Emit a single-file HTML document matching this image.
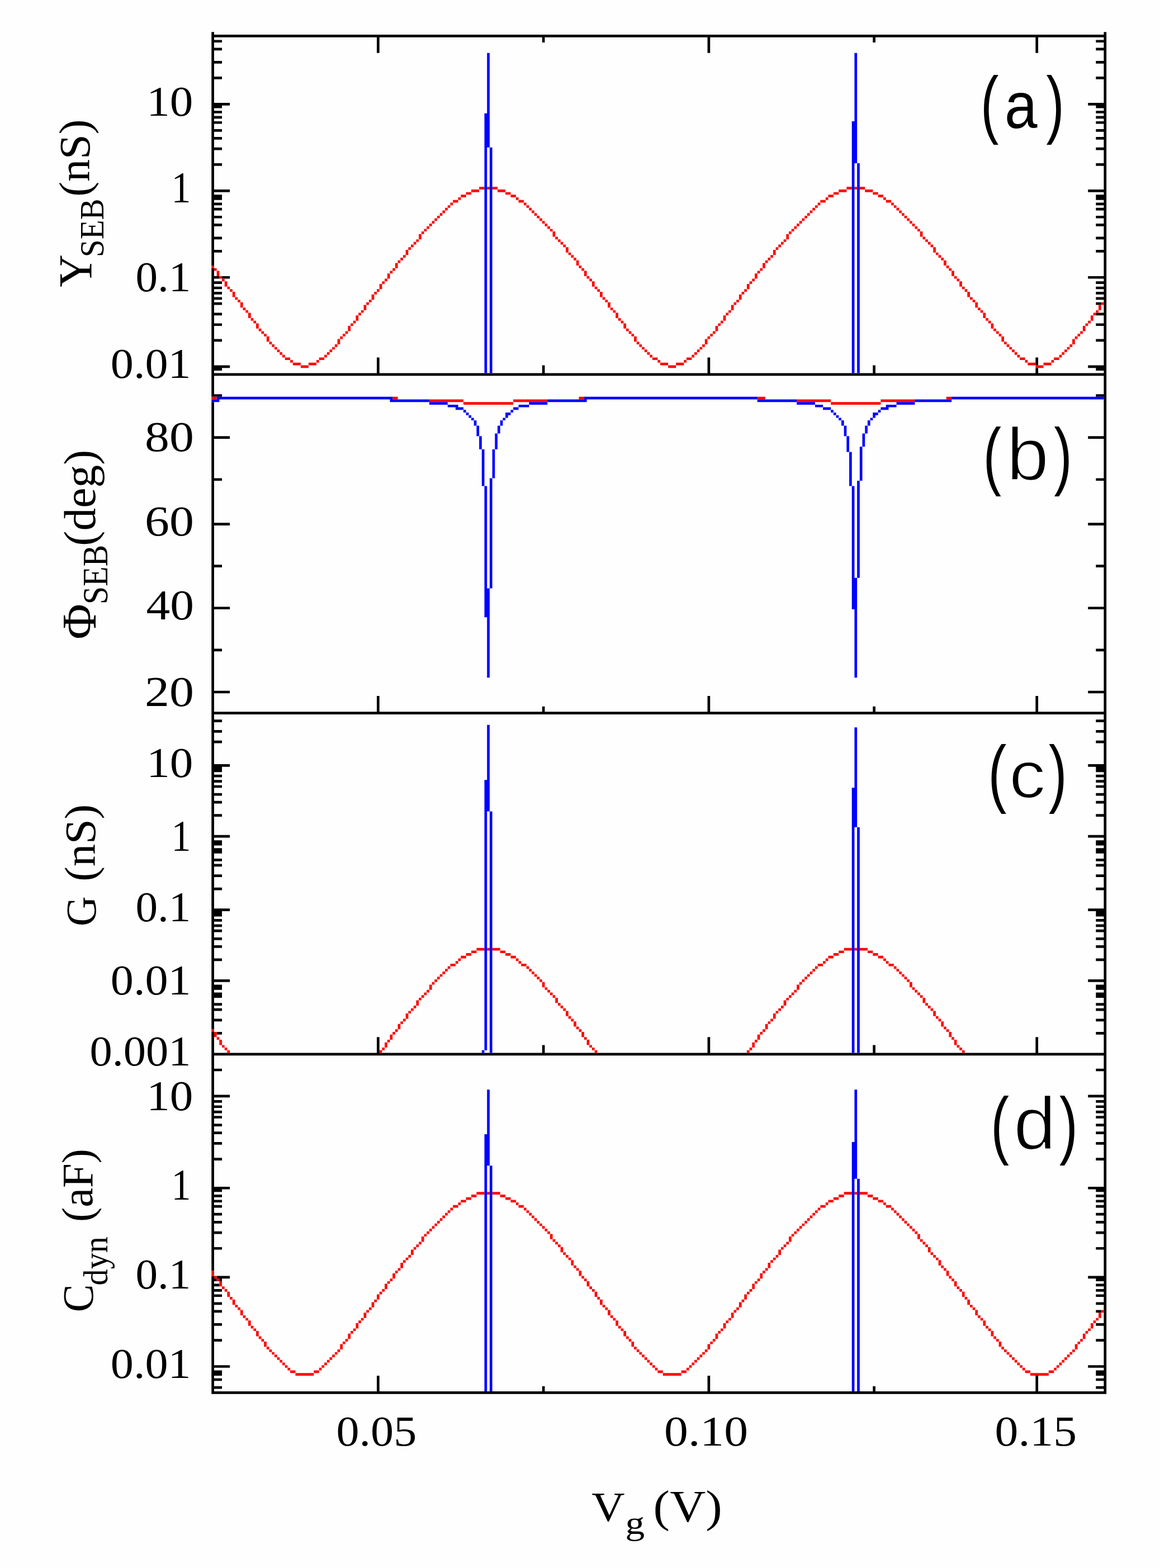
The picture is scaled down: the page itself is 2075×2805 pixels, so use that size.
<!DOCTYPE html>
<html lang="en"><head><meta charset="utf-8"><title>Figure</title>
<style>html,body{margin:0;padding:0;width:2075px;height:2805px;overflow:hidden;background:#fefefe}svg{display:block}text{white-space:pre}</style></head>
<body>
<svg width="2075" height="2805" viewBox="0 0 2075 2805">
<rect width="2075" height="2805" fill="#fefefe"/>
<g>
<path fill="#000" d="M378.28 57.3H382.97V61.99H378.28zM1974.44 57.3H1979.14V61.99H1974.44zM378.28 61.99H1979.14V66.68H378.28zM378.28 66.68H382.97V71.38H378.28zM1974.44 66.68H1979.14V71.38H1974.44zM378.28 71.38H397.06V76.07H378.28zM969.8 66.68H974.49V76.07H969.8zM1561.32 66.68H1566.01V76.07H1561.32zM1960.36 71.38H1979.14V76.07H1960.36zM378.28 76.07H382.97V85.46H378.28zM1974.44 76.07H1979.14V85.46H1974.44zM378.28 85.46H397.06V90.16H378.28zM1960.36 85.46H1979.14V90.16H1960.36zM674.04 66.68H678.73V94.85H674.04zM1265.56 66.68H1270.25V94.85H1265.56zM1852.38 66.68H1857.08V94.85H1852.38zM378.28 90.16H382.97V108.94H378.28zM1974.44 90.16H1979.14V108.94H1974.44zM378.28 108.94H397.06V113.63H378.28zM1960.36 108.94H1979.14V113.63H1960.36zM378.28 113.63H382.97V137.1H378.28zM1974.44 113.63H1979.14V137.1H1974.44zM378.28 137.1H397.06V141.8H378.28zM1960.36 137.1H1979.14V141.8H1960.36zM378.28 141.8H382.97V184.05H378.28zM1974.44 141.8H1979.14V184.05H1974.44zM378.28 184.05H411.14V188.74H378.28zM1946.28 184.05H1979.14V188.74H1946.28zM378.28 188.74H397.06V193.44H378.28zM1960.36 188.74H1979.14V193.44H1960.36zM378.28 193.44H382.97V198.13H378.28zM1974.44 193.44H1979.14V198.13H1974.44zM378.28 198.13H397.06V202.83H378.28zM1960.36 198.13H1979.14V202.83H1960.36zM378.28 202.83H382.97V207.52H378.28zM1974.44 202.83H1979.14V207.52H1974.44zM378.28 207.52H397.06V212.22H378.28zM1960.36 207.52H1979.14V212.22H1960.36zM378.28 212.22H382.97V216.91H378.28zM1974.44 212.22H1979.14V216.91H1974.44zM378.28 216.91H397.06V221.61H378.28zM1960.36 216.91H1979.14V221.61H1960.36zM378.28 221.61H382.97V231H378.28zM1974.44 221.61H1979.14V231H1974.44zM378.28 231H397.06V235.69H378.28zM1960.36 231H1979.14V235.69H1960.36zM378.28 235.69H382.97V245.08H378.28zM1974.44 235.69H1979.14V245.08H1974.44zM378.28 245.08H397.06V249.77H378.28zM1960.36 245.08H1979.14V249.77H1960.36zM378.28 249.77H382.97V263.86H378.28zM1974.44 249.77H1979.14V263.86H1974.44zM378.28 263.86H397.06V268.55H378.28zM1960.36 263.86H1979.14V268.55H1960.36zM378.28 268.55H382.97V292.03H378.28zM1974.44 268.55H1979.14V292.03H1974.44zM378.28 292.03H397.06V296.72H378.28zM1960.36 292.03H1979.14V296.72H1960.36zM378.28 296.72H382.97V338.97H378.28zM1974.44 296.72H1979.14V338.97H1974.44zM378.28 338.97H411.14V343.67H378.28zM1946.28 338.97H1979.14V343.67H1946.28zM378.28 343.67H382.97V348.36H378.28zM1974.44 343.67H1979.14V348.36H1974.44zM378.28 348.36H397.06V357.75H378.28zM1960.36 348.36H1979.14V357.75H1960.36zM378.28 357.75H382.97V362.44H378.28zM1974.44 357.75H1979.14V362.44H1974.44zM378.28 362.44H397.06V367.14H378.28zM1960.36 362.44H1979.14V367.14H1960.36zM378.28 367.14H382.97V371.83H378.28zM1974.44 367.14H1979.14V371.83H1974.44zM378.28 371.83H397.06V376.53H378.28zM1960.36 371.83H1979.14V376.53H1960.36zM378.28 376.53H382.97V385.92H378.28zM1974.44 376.53H1979.14V385.92H1974.44zM378.28 385.92H397.06V390.61H378.28zM1960.36 385.92H1979.14V390.61H1960.36zM378.28 390.61H382.97V400H378.28zM1974.44 390.61H1979.14V400H1974.44zM378.28 400H397.06V404.7H378.28zM1960.36 400H1979.14V404.7H1960.36zM378.28 404.7H382.97V423.47H378.28zM1974.44 404.7H1979.14V423.47H1974.44zM378.28 423.47H397.06V428.17H378.28zM1960.36 423.47H1979.14V428.17H1960.36zM378.28 428.17H382.97V446.95H378.28zM1974.44 428.17H1979.14V446.95H1974.44zM378.28 446.95H397.06V451.64H378.28zM1960.36 446.95H1979.14V451.64H1960.36zM378.28 451.64H382.97V475.11H378.28zM378.28 479.81H382.97V493.89H378.28zM1974.44 451.64H1979.14V493.89H1974.44zM378.28 493.89H392.36V498.59H378.28zM397.06 493.89H411.14V498.59H397.06zM1946.28 493.89H1979.14V498.59H1946.28zM378.28 498.59H382.97V503.28H378.28zM1974.44 498.59H1979.14V503.28H1974.44zM378.28 503.28H397.06V507.98H378.28zM1960.36 503.28H1979.14V507.98H1960.36zM378.28 507.98H382.97V512.67H378.28zM1974.44 507.98H1979.14V512.67H1974.44zM378.28 512.67H397.06V517.37H378.28zM1960.36 512.67H1979.14V517.37H1960.36zM378.28 517.37H382.97V522.06H378.28zM1974.44 517.37H1979.14V522.06H1974.44zM378.28 522.06H397.06V526.76H378.28zM1960.36 522.06H1979.14V526.76H1960.36zM378.28 526.76H382.97V531.45H378.28zM1974.44 526.76H1979.14V531.45H1974.44zM378.28 531.45H397.06V536.14H378.28zM1960.36 531.45H1979.14V536.14H1960.36zM378.28 536.14H382.97V540.84H378.28zM378.28 540.84H397.06V545.53H378.28zM1960.36 540.84H1969.75V545.53H1960.36zM378.28 545.53H382.97V559.62H378.28zM1974.44 536.14H1979.14V559.62H1974.44zM378.28 559.62H397.06V564.31H378.28zM1960.36 559.62H1979.14V564.31H1960.36zM378.28 564.31H382.97V578.4H378.28zM1974.44 564.31H1979.14V578.4H1974.44zM378.28 578.4H397.06V583.09H378.28zM1960.36 578.4H1979.14V583.09H1960.36zM378.28 583.09H382.97V606.56H378.28zM1974.44 583.09H1979.14V606.56H1974.44zM378.28 606.56H397.06V611.26H378.28zM1960.36 606.56H1979.14V611.26H1960.36zM378.28 611.26H382.97V653.51H378.28zM1852.38 639.43H1857.08V653.51H1852.38zM1974.44 611.26H1979.14V653.51H1974.44zM378.28 653.51H411.14V658.2H378.28zM1946.28 653.51H1979.14V658.2H1946.28zM378.28 658.2H397.06V662.9H378.28zM1960.36 658.2H1979.14V662.9H1960.36zM378.28 662.9H382.97V667.59H378.28zM674.04 639.43H678.73V667.59H674.04zM969.8 653.51H974.49V667.59H969.8zM1265.56 639.43H1270.25V667.59H1265.56zM1561.32 653.51H1566.01V667.59H1561.32zM1852.38 658.2H1857.08V667.59H1852.38zM1974.44 662.9H1979.14V667.59H1974.44zM378.28 667.59H1979.14V672.29H378.28zM378.28 672.29H382.97V705.15H378.28zM1974.44 672.29H1979.14V705.15H1974.44zM378.28 705.15H397.06V709.84H378.28zM1960.36 705.15H1979.14V709.84H1960.36zM378.28 719.23H382.97V780.26H378.28zM1974.44 709.84H1979.14V780.26H1974.44zM378.28 780.26H411.14V784.96H378.28zM1946.28 780.26H1979.14V784.96H1946.28zM378.28 784.96H382.97V855.38H378.28zM1974.44 784.96H1979.14V855.38H1974.44zM378.28 855.38H397.06V860.07H378.28zM1960.36 855.38H1979.14V860.07H1960.36zM378.28 860.07H382.97V935.19H378.28zM1974.44 860.07H1979.14V935.19H1974.44zM378.28 935.19H411.14V939.88H378.28zM1946.28 935.19H1979.14V939.88H1946.28zM378.28 939.88H382.97V1010.3H378.28zM1974.44 939.88H1979.14V1010.3H1974.44zM378.28 1010.3H397.06V1014.99H378.28zM1960.36 1010.3H1979.14V1014.99H1960.36zM378.28 1014.99H382.97V1085.41H378.28zM1974.44 1014.99H1979.14V1085.41H1974.44zM378.28 1085.41H411.14V1090.11H378.28zM1946.28 1085.41H1979.14V1090.11H1946.28zM378.28 1090.11H382.97V1160.53H378.28zM1974.44 1090.11H1979.14V1160.53H1974.44zM378.28 1160.53H397.06V1165.22H378.28zM1960.36 1160.53H1979.14V1165.22H1960.36zM378.28 1165.22H382.97V1235.64H378.28zM1974.44 1165.22H1979.14V1235.64H1974.44zM378.28 1235.64H411.14V1240.33H378.28zM1946.28 1235.64H1979.14V1240.33H1946.28zM378.28 1240.33H382.97V1273.2H378.28zM674.04 1245.03H678.73V1273.2H674.04zM969.8 1263.81H974.49V1273.2H969.8zM1265.56 1245.03H1270.25V1273.2H1265.56zM1561.32 1263.81H1566.01V1273.2H1561.32zM1852.38 1245.03H1857.08V1273.2H1852.38zM1974.44 1240.33H1979.14V1273.2H1974.44zM378.28 1273.2H1979.14V1277.89H378.28zM378.28 1277.89H382.97V1287.28H378.28zM1974.44 1277.89H1979.14V1287.28H1974.44zM378.28 1287.28H397.06V1291.98H378.28zM1960.36 1287.28H1979.14V1291.98H1960.36zM378.28 1291.98H382.97V1306.06H378.28zM1974.44 1291.98H1979.14V1306.06H1974.44zM378.28 1306.06H397.06V1310.75H378.28zM1960.36 1306.06H1979.14V1310.75H1960.36zM378.28 1310.75H382.97V1324.84H378.28zM1974.44 1310.75H1979.14V1324.84H1974.44zM378.28 1324.84H397.06V1329.53H378.28zM1960.36 1324.84H1979.14V1329.53H1960.36zM378.28 1329.53H382.97V1367.09H378.28zM1974.44 1329.53H1979.14V1367.09H1974.44zM378.28 1367.09H411.14V1371.78H378.28zM1946.28 1367.09H1979.14V1371.78H1946.28zM378.28 1371.78H397.06V1381.17H378.28zM1960.36 1371.78H1979.14V1381.17H1960.36zM378.28 1381.17H382.97V1385.87H378.28zM1974.44 1381.17H1979.14V1385.87H1974.44zM378.28 1385.87H397.06V1390.56H378.28zM1960.36 1385.87H1979.14V1390.56H1960.36zM378.28 1390.56H382.97V1395.26H378.28zM1974.44 1390.56H1979.14V1395.26H1974.44zM378.28 1395.26H397.06V1399.95H378.28zM1960.36 1395.26H1979.14V1399.95H1960.36zM378.28 1399.95H382.97V1404.65H378.28zM1974.44 1399.95H1979.14V1404.65H1974.44zM378.28 1404.65H397.06V1409.34H378.28zM1960.36 1404.65H1979.14V1409.34H1960.36zM378.28 1409.34H382.97V1418.73H378.28zM1974.44 1409.34H1979.14V1418.73H1974.44zM378.28 1418.73H397.06V1423.42H378.28zM1960.36 1418.73H1979.14V1423.42H1960.36zM378.28 1423.42H382.97V1432.81H378.28zM1974.44 1423.42H1979.14V1432.81H1974.44zM378.28 1432.81H397.06V1437.51H378.28zM1960.36 1432.81H1979.14V1437.51H1960.36zM378.28 1437.51H382.97V1456.29H378.28zM1974.44 1437.51H1979.14V1456.29H1974.44zM378.28 1456.29H397.06V1460.98H378.28zM1960.36 1456.29H1979.14V1460.98H1960.36zM378.28 1460.98H382.97V1493.84H378.28zM1974.44 1460.98H1979.14V1493.84H1974.44zM378.28 1493.84H411.14V1498.54H378.28zM1946.28 1493.84H1979.14V1498.54H1946.28zM378.28 1498.54H382.97V1503.23H378.28zM1974.44 1498.54H1979.14V1503.23H1974.44zM378.28 1503.23H397.06V1512.62H378.28zM1960.36 1503.23H1979.14V1512.62H1960.36zM378.28 1512.62H382.97V1517.32H378.28zM1974.44 1512.62H1979.14V1517.32H1974.44zM378.28 1517.32H397.06V1526.71H378.28zM1960.36 1517.32H1979.14V1526.71H1960.36zM378.28 1526.71H382.97V1536.09H378.28zM1974.44 1526.71H1979.14V1536.09H1974.44zM378.28 1536.09H397.06V1540.79H378.28zM1960.36 1536.09H1979.14V1540.79H1960.36zM378.28 1540.79H382.97V1545.48H378.28zM1974.44 1540.79H1979.14V1545.48H1974.44zM378.28 1545.48H397.06V1550.18H378.28zM1960.36 1545.48H1979.14V1550.18H1960.36zM378.28 1550.18H382.97V1564.26H378.28zM1974.44 1550.18H1979.14V1564.26H1974.44zM378.28 1564.26H397.06V1568.96H378.28zM1960.36 1564.26H1979.14V1568.96H1960.36zM378.28 1568.96H382.97V1587.74H378.28zM1974.44 1568.96H1979.14V1587.74H1974.44zM378.28 1587.74H397.06V1592.43H378.28zM1960.36 1587.74H1979.14V1592.43H1960.36zM378.28 1592.43H382.97V1625.29H378.28zM1974.44 1592.43H1979.14V1625.29H1974.44zM378.28 1625.29H411.14V1629.99H378.28zM1946.28 1625.29H1979.14V1629.99H1946.28zM378.28 1629.99H397.06V1639.38H378.28zM1960.36 1629.99H1979.14V1639.38H1960.36zM378.28 1639.38H382.97V1644.07H378.28zM1974.44 1639.38H1979.14V1644.07H1974.44zM378.28 1644.07H397.06V1648.76H378.28zM1960.36 1644.07H1979.14V1648.76H1960.36zM378.28 1648.76H382.97V1653.46H378.28zM1974.44 1648.76H1979.14V1653.46H1974.44zM378.28 1653.46H397.06V1658.15H378.28zM1960.36 1653.46H1979.14V1658.15H1960.36zM378.28 1658.15H382.97V1662.85H378.28zM1974.44 1658.15H1979.14V1662.85H1974.44zM378.28 1662.85H397.06V1667.54H378.28zM1960.36 1662.85H1979.14V1667.54H1960.36zM378.28 1667.54H382.97V1676.93H378.28zM1974.44 1667.54H1979.14V1676.93H1974.44zM378.28 1676.93H397.06V1681.63H378.28zM1960.36 1676.93H1979.14V1681.63H1960.36zM378.28 1681.63H382.97V1691.02H378.28zM1974.44 1681.63H1979.14V1691.02H1974.44zM378.28 1691.02H397.06V1695.71H378.28zM1960.36 1691.02H1979.14V1695.71H1960.36zM378.28 1695.71H382.97V1714.49H378.28zM1974.44 1695.71H1979.14V1714.49H1974.44zM378.28 1714.49H397.06V1719.18H378.28zM1960.36 1714.49H1979.14V1719.18H1960.36zM378.28 1719.18H382.97V1752.05H378.28zM1974.44 1719.18H1979.14V1752.05H1974.44zM378.28 1752.05H411.14V1756.74H378.28zM1946.28 1752.05H1979.14V1756.74H1946.28zM378.28 1756.74H382.97V1761.44H378.28zM1974.44 1756.74H1979.14V1761.44H1974.44zM378.28 1761.44H397.06V1770.82H378.28zM1960.36 1761.44H1979.14V1770.82H1960.36zM378.28 1770.82H382.97V1775.52H378.28zM1974.44 1770.82H1979.14V1775.52H1974.44zM378.28 1775.52H397.06V1784.91H378.28zM1960.36 1775.52H1979.14V1784.91H1960.36zM378.28 1784.91H382.97V1794.3H378.28zM1974.44 1784.91H1979.14V1794.3H1974.44zM378.28 1794.3H397.06V1798.99H378.28zM1960.36 1794.3H1979.14V1798.99H1960.36zM378.28 1798.99H382.97V1803.69H378.28zM1974.44 1798.99H1979.14V1803.69H1974.44zM378.28 1803.69H397.06V1808.38H378.28zM1960.36 1803.69H1979.14V1808.38H1960.36zM378.28 1808.38H382.97V1822.47H378.28zM1974.44 1808.38H1979.14V1822.47H1974.44zM378.28 1822.47H397.06V1827.16H378.28zM1960.36 1822.47H1979.14V1827.16H1960.36zM378.28 1827.16H382.97V1841.24H378.28zM1974.44 1827.16H1979.14V1845.94H1974.44zM387.67 1845.94H397.06V1850.63H387.67zM1960.36 1845.94H1979.14V1850.63H1960.36zM378.28 1845.94H382.97V1883.49H378.28zM674.04 1855.33H678.73V1883.49H674.04zM969.8 1869.41H974.49V1883.49H969.8zM1265.56 1855.33H1270.25V1883.49H1265.56zM1561.32 1869.41H1566.01V1883.49H1561.32zM1852.38 1855.33H1857.08V1883.49H1852.38zM1974.44 1850.63H1979.14V1883.49H1974.44zM378.28 1883.49H1979.14V1888.19H378.28zM378.28 1888.19H382.97V1911.66H378.28zM1974.44 1888.19H1979.14V1911.66H1974.44zM378.28 1911.66H397.06V1916.36H378.28zM1960.36 1911.66H1979.14V1916.36H1960.36zM378.28 1916.36H382.97V1958.61H378.28zM1974.44 1916.36H1979.14V1958.61H1974.44zM378.28 1958.61H411.14V1963.3H378.28zM1946.28 1958.61H1979.14V1963.3H1946.28zM378.28 1963.3H382.97V1968H378.28zM1974.44 1963.3H1979.14V1968H1974.44zM378.28 1968H397.06V1972.69H378.28zM1960.36 1968H1979.14V1972.69H1960.36zM378.28 1972.69H382.97V1977.39H378.28zM1974.44 1972.69H1979.14V1977.39H1974.44zM378.28 1977.39H397.06V1982.08H378.28zM1960.36 1977.39H1979.14V1982.08H1960.36zM378.28 1982.08H382.97V1986.78H378.28zM1974.44 1982.08H1979.14V1986.78H1974.44zM378.28 1986.78H397.06V1991.47H378.28zM1960.36 1986.78H1979.14V1991.47H1960.36zM378.28 1991.47H382.97V1996.17H378.28zM1974.44 1991.47H1979.14V1996.17H1974.44zM378.28 1996.17H397.06V2000.86H378.28zM1960.36 1996.17H1979.14V2000.86H1960.36zM378.28 2000.86H382.97V2010.25H378.28zM1974.44 2000.86H1979.14V2010.25H1974.44zM378.28 2010.25H397.06V2014.94H378.28zM1960.36 2010.25H1979.14V2014.94H1960.36zM378.28 2014.94H382.97V2024.33H378.28zM1974.44 2014.94H1979.14V2024.33H1974.44zM378.28 2024.33H397.06V2029.03H378.28zM1960.36 2024.33H1979.14V2029.03H1960.36zM378.28 2029.03H382.97V2043.11H378.28zM1974.44 2029.03H1979.14V2043.11H1974.44zM378.28 2043.11H397.06V2047.81H378.28zM1960.36 2043.11H1979.14V2047.81H1960.36zM378.28 2047.81H382.97V2071.28H378.28zM1974.44 2047.81H1979.14V2071.28H1974.44zM378.28 2071.28H397.06V2075.97H378.28zM1960.36 2071.28H1979.14V2075.97H1960.36zM378.28 2075.97H382.97V2122.92H378.28zM1974.44 2075.97H1979.14V2122.92H1974.44zM378.28 2122.92H411.14V2127.61H378.28zM1946.28 2122.92H1979.14V2127.61H1946.28zM378.28 2127.61H397.06V2132.31H378.28zM1960.36 2127.61H1979.14V2132.31H1960.36zM378.28 2132.31H382.97V2137H378.28zM1974.44 2132.31H1979.14V2137H1974.44zM378.28 2137H397.06V2141.7H378.28zM1960.36 2137H1979.14V2141.7H1960.36zM378.28 2141.7H382.97V2146.39H378.28zM1974.44 2141.7H1979.14V2146.39H1974.44zM378.28 2146.39H397.06V2151.09H378.28zM1960.36 2146.39H1979.14V2151.09H1960.36zM378.28 2151.09H382.97V2155.78H378.28zM1974.44 2151.09H1979.14V2155.78H1974.44zM378.28 2155.78H397.06V2160.48H378.28zM1960.36 2155.78H1979.14V2160.48H1960.36zM378.28 2160.48H382.97V2169.87H378.28zM1974.44 2160.48H1979.14V2169.87H1974.44zM378.28 2169.87H397.06V2174.56H378.28zM1960.36 2169.87H1979.14V2174.56H1960.36zM378.28 2174.56H382.97V2183.95H378.28zM1974.44 2174.56H1979.14V2183.95H1974.44zM378.28 2183.95H397.06V2188.64H378.28zM1960.36 2183.95H1979.14V2188.64H1960.36zM378.28 2188.64H382.97V2202.73H378.28zM1974.44 2188.64H1979.14V2202.73H1974.44zM378.28 2202.73H397.06V2207.42H378.28zM1960.36 2202.73H1979.14V2207.42H1960.36zM378.28 2207.42H382.97V2230.9H378.28zM1974.44 2207.42H1979.14V2230.9H1974.44zM378.28 2230.9H397.06V2235.59H378.28zM1960.36 2230.9H1979.14V2235.59H1960.36zM378.28 2235.59H382.97V2273.15H378.28zM1974.44 2235.59H1979.14V2282.54H1974.44zM378.28 2282.54H382.97V2287.23H378.28zM387.67 2282.54H411.14V2287.23H387.67zM1946.28 2282.54H1979.14V2287.23H1946.28zM378.28 2287.23H387.67V2291.92H378.28zM392.36 2287.23H397.06V2291.92H392.36zM1960.36 2287.23H1979.14V2291.92H1960.36zM378.28 2291.92H382.97V2296.62H378.28zM1974.44 2291.92H1979.14V2296.62H1974.44zM378.28 2296.62H392.36V2301.31H378.28zM1960.36 2296.62H1979.14V2301.31H1960.36zM378.28 2301.31H382.97V2306.01H378.28zM1974.44 2301.31H1979.14V2306.01H1974.44zM378.28 2306.01H397.06V2310.7H378.28zM1960.36 2306.01H1979.14V2310.7H1960.36zM378.28 2310.7H382.97V2315.4H378.28zM1974.44 2310.7H1979.14V2315.4H1974.44zM378.28 2315.4H397.06V2320.09H378.28zM1960.36 2315.4H1979.14V2320.09H1960.36zM378.28 2320.09H382.97V2329.48H378.28zM1974.44 2320.09H1979.14V2329.48H1974.44zM378.28 2329.48H397.06V2334.18H378.28zM1960.36 2329.48H1979.14V2334.18H1960.36zM378.28 2334.18H382.97V2343.57H378.28zM378.28 2343.57H397.06V2348.26H378.28zM1960.36 2343.57H1969.75V2348.26H1960.36zM378.28 2348.26H382.97V2367.04H378.28zM1974.44 2334.18H1979.14V2367.04H1974.44zM378.28 2367.04H397.06V2371.73H378.28zM1960.36 2367.04H1979.14V2371.73H1960.36zM378.28 2371.73H382.97V2395.21H378.28zM1974.44 2371.73H1979.14V2395.21H1974.44zM378.28 2395.21H397.06V2399.9H378.28zM1960.36 2395.21H1979.14V2399.9H1960.36zM378.28 2399.9H382.97V2442.15H378.28zM1974.44 2399.9H1979.14V2442.15H1974.44zM378.28 2442.15H411.14V2446.85H378.28zM1946.28 2442.15H1979.14V2446.85H1946.28zM378.28 2446.85H382.97V2451.54H378.28zM1974.44 2446.85H1979.14V2451.54H1974.44zM378.28 2451.54H397.06V2460.93H378.28zM1960.36 2451.54H1979.14V2460.93H1960.36zM378.28 2460.93H382.97V2465.63H378.28zM1974.44 2460.93H1979.14V2465.63H1974.44zM378.28 2465.63H397.06V2470.32H378.28zM1960.36 2465.63H1979.14V2470.32H1960.36zM378.28 2470.32H382.97V2479.71H378.28zM1974.44 2470.32H1979.14V2479.71H1974.44zM378.28 2479.71H397.06V2484.4H378.28zM1960.36 2479.71H1979.14V2484.4H1960.36zM378.28 2484.4H382.97V2489.1H378.28zM674.04 2460.93H678.73V2489.1H674.04zM969.8 2479.71H974.49V2489.1H969.8zM1265.56 2460.93H1270.25V2489.1H1265.56zM1561.32 2479.71H1566.01V2489.1H1561.32zM1852.38 2460.93H1857.08V2489.1H1852.38zM1974.44 2484.4H1979.14V2489.1H1974.44zM378.28 2489.1H1979.14V2493.79H378.28z"/>
<path fill="#f00" d="M857.13 334.28H866.52V338.97H857.13zM871.21 334.28H875.91V338.97H871.21zM880.6 334.28H889.99V338.97H880.6zM1514.37 334.28H1523.76V338.97H1514.37zM1528.46 334.28H1533.15V338.97H1528.46zM1537.85 334.28H1547.24V338.97H1537.85zM843.05 338.97H857.13V343.67H843.05zM889.99 338.97H904.08V343.67H889.99zM1500.29 338.97H1514.37V343.67H1500.29zM1547.24 338.97H1561.32V343.67H1547.24zM833.66 343.67H843.05V348.36H833.66zM904.08 343.67H913.46V348.36H904.08zM1490.9 343.67H1500.29V348.36H1490.9zM1561.32 343.67H1570.71V348.36H1561.32zM824.27 348.36H833.66V353.06H824.27zM913.46 348.36H922.85V353.06H913.46zM1481.51 348.36H1490.9V353.06H1481.51zM1570.71 348.36H1580.1V353.06H1570.71zM819.57 353.06H824.27V357.75H819.57zM922.85 353.06H927.55V357.75H922.85zM1476.82 353.06H1481.51V357.75H1476.82zM1580.1 353.06H1584.79V357.75H1580.1zM810.18 357.75H819.57V362.44H810.18zM927.55 357.75H936.94V362.44H927.55zM1467.43 357.75H1476.82V362.44H1467.43zM1584.79 357.75H1594.18V362.44H1584.79zM805.49 362.44H810.18V367.14H805.49zM936.94 362.44H941.63V367.14H936.94zM1462.73 362.44H1467.43V367.14H1462.73zM1594.18 362.44H1598.88V367.14H1594.18zM800.79 367.14H805.49V371.83H800.79zM941.63 367.14H946.33V371.83H941.63zM1458.04 367.14H1462.73V371.83H1458.04zM1598.88 367.14H1603.57V371.83H1598.88zM796.1 371.83H800.79V376.53H796.1zM946.33 371.83H951.02V376.53H946.33zM1453.34 371.83H1458.04V376.53H1453.34zM1603.57 371.83H1608.27V376.53H1603.57zM791.4 376.53H796.1V381.22H791.4zM951.02 376.53H955.72V381.22H951.02zM1448.65 376.53H1453.34V381.22H1448.65zM1608.27 376.53H1612.96V381.22H1608.27zM786.71 381.22H791.4V385.92H786.71zM955.72 381.22H960.41V385.92H955.72zM1443.95 381.22H1448.65V385.92H1443.95zM1612.96 381.22H1617.65V385.92H1612.96zM782.02 385.92H786.71V390.61H782.02zM960.41 385.92H965.11V390.61H960.41zM1439.26 385.92H1443.95V390.61H1439.26zM1617.65 385.92H1622.35V390.61H1617.65zM777.32 390.61H782.02V395.31H777.32zM965.11 390.61H969.8V395.31H965.11zM1434.57 390.61H1439.26V395.31H1434.57zM1622.35 390.61H1627.04V395.31H1622.35zM772.63 395.31H777.32V400H772.63zM969.8 395.31H974.49V400H969.8zM1429.87 395.31H1434.57V400H1429.87zM1627.04 395.31H1631.74V400H1627.04zM767.93 400H772.63V404.7H767.93zM974.49 400H979.19V404.7H974.49zM1425.18 400H1429.87V404.7H1425.18zM1631.74 400H1636.43V404.7H1631.74zM763.24 404.7H767.93V409.39H763.24zM979.19 404.7H983.88V409.39H979.19zM1420.48 404.7H1425.18V409.39H1420.48zM1636.43 404.7H1641.13V409.39H1636.43zM758.54 409.39H763.24V414.09H758.54zM983.88 409.39H988.58V414.09H983.88zM1415.79 409.39H1420.48V414.09H1415.79zM1641.13 409.39H1645.82V414.09H1641.13zM753.85 414.09H758.54V418.78H753.85zM1411.09 414.09H1415.79V418.78H1411.09zM988.58 414.09H993.27V423.47H988.58zM1645.82 414.09H1650.52V423.47H1645.82zM749.15 418.78H753.85V428.17H749.15zM993.27 423.47H997.97V428.17H993.27zM1406.4 418.78H1411.09V428.17H1406.4zM1650.52 423.47H1655.21V428.17H1650.52zM744.46 428.17H749.15V432.86H744.46zM997.97 428.17H1002.66V432.86H997.97zM1401.7 428.17H1406.4V432.86H1401.7zM1655.21 428.17H1659.91V432.86H1655.21zM739.76 432.86H744.46V437.56H739.76zM1002.66 432.86H1007.36V437.56H1002.66zM1397.01 432.86H1401.7V437.56H1397.01zM1659.91 432.86H1664.6V437.56H1659.91zM735.07 437.56H739.76V442.25H735.07zM1007.36 437.56H1012.05V442.25H1007.36zM1392.31 437.56H1397.01V442.25H1392.31zM1664.6 437.56H1669.3V442.25H1664.6zM730.38 442.25H735.07V446.95H730.38zM1387.62 442.25H1392.31V446.95H1387.62zM1012.05 442.25H1016.75V451.64H1012.05zM1669.3 442.25H1673.99V451.64H1669.3zM725.68 446.95H730.38V456.34H725.68zM1016.75 451.64H1021.44V456.34H1016.75zM1382.92 446.95H1387.62V456.34H1382.92zM1673.99 451.64H1678.68V456.34H1673.99zM720.99 456.34H725.68V461.03H720.99zM1021.44 456.34H1026.13V461.03H1021.44zM1378.23 456.34H1382.92V461.03H1378.23zM1678.68 456.34H1683.38V461.03H1678.68zM716.29 461.03H720.99V465.73H716.29zM1026.13 461.03H1030.83V465.73H1026.13zM1373.54 461.03H1378.23V465.73H1373.54zM1683.38 461.03H1688.07V465.73H1683.38zM711.6 465.73H716.29V470.42H711.6zM1368.84 465.73H1373.54V470.42H1368.84zM1030.83 465.73H1035.52V475.11H1030.83zM1688.07 465.73H1692.77V475.11H1688.07zM378.28 475.11H382.97V479.81H378.28zM706.9 470.42H711.6V479.81H706.9zM1035.52 475.11H1040.22V479.81H1035.52zM1364.15 470.42H1368.84V479.81H1364.15zM1692.77 475.11H1697.46V479.81H1692.77zM382.97 479.81H387.67V484.5H382.97zM702.21 479.81H706.9V484.5H702.21zM1040.22 479.81H1044.91V484.5H1040.22zM1359.45 479.81H1364.15V484.5H1359.45zM1697.46 479.81H1702.16V484.5H1697.46zM697.51 484.5H702.21V489.2H697.51zM1354.76 484.5H1359.45V489.2H1354.76zM387.67 484.5H392.36V493.89H387.67zM1044.91 484.5H1049.61V493.89H1044.91zM1702.16 484.5H1706.85V493.89H1702.16zM392.36 493.89H397.06V498.59H392.36zM692.82 489.2H697.51V498.59H692.82zM1049.61 493.89H1054.3V498.59H1049.61zM1350.06 489.2H1354.76V498.59H1350.06zM1706.85 493.89H1711.55V498.59H1706.85zM397.06 498.59H401.75V503.28H397.06zM688.12 498.59H692.82V503.28H688.12zM1054.3 498.59H1059V503.28H1054.3zM1345.37 498.59H1350.06V503.28H1345.37zM1711.55 498.59H1716.24V503.28H1711.55zM683.43 503.28H688.12V507.98H683.43zM1340.67 503.28H1345.37V507.98H1340.67zM401.75 503.28H406.45V512.67H401.75zM1059 503.28H1063.69V512.67H1059zM1716.24 503.28H1720.94V512.67H1716.24zM406.45 512.67H411.14V517.37H406.45zM678.73 507.98H683.43V517.37H678.73zM1063.69 512.67H1068.39V517.37H1063.69zM1335.98 507.98H1340.67V517.37H1335.98zM1720.94 512.67H1725.63V517.37H1720.94zM411.14 517.37H415.84V522.06H411.14zM674.04 517.37H678.73V522.06H674.04zM1068.39 517.37H1073.08V522.06H1068.39zM1331.28 517.37H1335.98V522.06H1331.28zM1725.63 517.37H1730.32V522.06H1725.63zM669.35 522.06H674.04V526.76H669.35zM1326.59 522.06H1331.28V526.76H1326.59zM415.84 522.06H420.53V531.45H415.84zM1073.08 522.06H1077.78V531.45H1073.08zM1730.32 522.06H1735.02V531.45H1730.32zM420.53 531.45H425.23V536.14H420.53zM664.65 526.76H669.35V536.14H664.65zM1077.78 531.45H1082.47V536.14H1077.78zM1321.89 526.76H1326.59V536.14H1321.89zM1735.02 531.45H1739.71V536.14H1735.02zM425.23 536.14H429.92V540.84H425.23zM659.96 536.14H664.65V540.84H659.96zM1082.47 536.14H1087.16V540.84H1082.47zM1317.2 536.14H1321.89V540.84H1317.2zM1739.71 536.14H1744.41V540.84H1739.71zM655.26 540.84H659.96V545.53H655.26zM1312.51 540.84H1317.2V545.53H1312.51zM1969.75 540.84H1974.44V545.53H1969.75zM429.92 540.84H434.62V550.23H429.92zM1087.16 540.84H1091.86V550.23H1087.16zM1744.41 540.84H1749.1V550.23H1744.41zM434.62 550.23H439.31V554.92H434.62zM650.57 545.53H655.26V554.92H650.57zM1091.86 550.23H1096.55V554.92H1091.86zM1307.81 545.53H1312.51V554.92H1307.81zM1749.1 550.23H1753.8V554.92H1749.1zM1965.05 545.53H1969.75V554.92H1965.05zM439.31 554.92H444V559.62H439.31zM645.87 554.92H650.57V559.62H645.87zM1096.55 554.92H1101.25V559.62H1096.55zM1303.12 554.92H1307.81V559.62H1303.12zM1753.8 554.92H1758.49V559.62H1753.8zM1960.36 554.92H1965.05V559.62H1960.36zM641.18 559.62H645.87V564.31H641.18zM1298.42 559.62H1303.12V564.31H1298.42zM1955.67 559.62H1960.36V564.31H1955.67zM444 559.62H448.7V569.01H444zM1101.25 559.62H1105.94V569.01H1101.25zM1758.49 559.62H1763.19V569.01H1758.49zM448.7 569.01H453.39V573.7H448.7zM636.48 564.31H641.18V573.7H636.48zM1105.94 569.01H1110.64V573.7H1105.94zM1293.73 564.31H1298.42V573.7H1293.73zM1763.19 569.01H1767.88V573.7H1763.19zM1950.97 564.31H1955.67V573.7H1950.97zM453.39 573.7H458.09V578.4H453.39zM631.79 573.7H636.48V578.4H631.79zM1110.64 573.7H1115.33V578.4H1110.64zM1289.03 573.7H1293.73V578.4H1289.03zM1767.88 573.7H1772.58V578.4H1767.88zM1946.28 573.7H1950.97V578.4H1946.28zM627.09 578.4H631.79V583.09H627.09zM1284.34 578.4H1289.03V583.09H1284.34zM1941.58 578.4H1946.28V583.09H1941.58zM458.09 578.4H462.78V587.79H458.09zM1115.33 578.4H1120.03V587.79H1115.33zM1772.58 578.4H1777.27V587.79H1772.58zM462.78 587.79H467.48V592.48H462.78zM622.4 583.09H627.09V592.48H622.4zM1120.03 587.79H1124.72V592.48H1120.03zM1279.64 583.09H1284.34V592.48H1279.64zM1777.27 587.79H1781.97V592.48H1777.27zM1936.89 583.09H1941.58V592.48H1936.89zM467.48 592.48H472.17V597.17H467.48zM617.7 592.48H622.4V597.17H617.7zM1124.72 592.48H1129.42V597.17H1124.72zM1274.95 592.48H1279.64V597.17H1274.95zM1781.97 592.48H1786.66V597.17H1781.97zM1932.19 592.48H1936.89V597.17H1932.19zM472.17 597.17H476.87V601.87H472.17zM613.01 597.17H617.7V601.87H613.01zM1129.42 597.17H1134.11V601.87H1129.42zM1270.25 597.17H1274.95V601.87H1270.25zM1786.66 597.17H1791.35V601.87H1786.66zM1927.5 597.17H1932.19V601.87H1927.5zM608.32 601.87H613.01V606.56H608.32zM1265.56 601.87H1270.25V606.56H1265.56zM1922.8 601.87H1927.5V606.56H1922.8zM476.87 601.87H481.56V611.26H476.87zM1134.11 601.87H1138.81V611.26H1134.11zM1791.35 601.87H1796.05V611.26H1791.35zM481.56 611.26H486.26V615.95H481.56zM603.62 606.56H608.32V615.95H603.62zM1138.81 611.26H1143.5V615.95H1138.81zM1260.86 606.56H1265.56V615.95H1260.86zM1796.05 611.26H1800.74V615.95H1796.05zM1918.11 606.56H1922.8V615.95H1918.11zM486.26 615.95H490.95V620.65H486.26zM598.93 615.95H603.62V620.65H598.93zM1143.5 615.95H1148.19V620.65H1143.5zM1256.17 615.95H1260.86V620.65H1256.17zM1800.74 615.95H1805.44V620.65H1800.74zM1913.41 615.95H1918.11V620.65H1913.41zM490.95 620.65H495.64V625.34H490.95zM594.23 620.65H598.93V625.34H594.23zM1148.19 620.65H1152.89V625.34H1148.19zM1251.48 620.65H1256.17V625.34H1251.48zM1805.44 620.65H1810.13V625.34H1805.44zM1908.72 620.65H1913.41V625.34H1908.72zM495.64 625.34H500.34V630.04H495.64zM589.54 625.34H594.23V630.04H589.54zM1152.89 625.34H1157.58V630.04H1152.89zM1246.78 625.34H1251.48V630.04H1246.78zM1810.13 625.34H1814.83V630.04H1810.13zM1904.03 625.34H1908.72V630.04H1904.03zM500.34 630.04H505.03V634.73H500.34zM584.84 630.04H589.54V634.73H584.84zM1157.58 630.04H1162.28V634.73H1157.58zM1242.09 630.04H1246.78V634.73H1242.09zM1814.83 630.04H1819.52V634.73H1814.83zM1899.33 630.04H1904.03V634.73H1899.33zM505.03 634.73H509.73V639.43H505.03zM580.15 634.73H584.84V639.43H580.15zM1162.28 634.73H1166.97V639.43H1162.28zM1237.39 634.73H1242.09V639.43H1237.39zM1819.52 634.73H1824.22V639.43H1819.52zM1894.64 634.73H1899.33V639.43H1894.64zM509.73 639.43H519.12V644.12H509.73zM570.76 639.43H580.15V644.12H570.76zM1166.97 639.43H1176.36V644.12H1166.97zM1228 639.43H1237.39V644.12H1228zM1824.22 639.43H1833.61V644.12H1824.22zM1885.25 639.43H1894.64V644.12H1885.25zM519.12 644.12H523.81V648.82H519.12zM566.06 644.12H570.76V648.82H566.06zM1176.36 644.12H1181.06V648.82H1176.36zM1223.31 644.12H1228V648.82H1223.31zM1833.61 644.12H1838.3V648.82H1833.61zM1880.55 644.12H1885.25V648.82H1880.55zM523.81 648.82H537.9V653.51H523.81zM551.98 648.82H566.06V653.51H551.98zM1181.06 648.82H1195.14V653.51H1181.06zM1209.22 648.82H1223.31V653.51H1209.22zM1838.3 648.82H1852.38V653.51H1838.3zM1866.47 648.82H1880.55V653.51H1866.47zM537.9 653.51H551.98V658.2H537.9zM1195.14 653.51H1209.22V658.2H1195.14zM1852.38 653.51H1866.47V658.2H1852.38zM378.28 709.84H387.67V714.54H378.28zM702.21 709.84H711.6V714.54H702.21zM1035.52 709.84H1044.91V714.54H1035.52zM1354.76 709.84H1368.84V714.54H1354.76zM1692.77 709.84H1702.16V714.54H1692.77zM767.93 714.54H828.96V719.23H767.93zM918.16 714.54H979.19V719.23H918.16zM1425.18 714.54H1486.21V719.23H1425.18zM1575.4 714.54H1636.43V719.23H1575.4zM828.96 719.23H918.16V723.93H828.96zM1486.21 719.23H1575.4V723.93H1486.21zM852.43 1695.71H866.52V1700.41H852.43zM871.21 1695.71H875.91V1700.41H871.21zM880.6 1695.71H894.69V1700.41H880.6zM1509.68 1695.71H1523.76V1700.41H1509.68zM1528.46 1695.71H1533.15V1700.41H1528.46zM1537.85 1695.71H1551.93V1700.41H1537.85zM843.05 1700.41H852.43V1705.1H843.05zM894.69 1700.41H904.08V1705.1H894.69zM1500.29 1700.41H1509.68V1705.1H1500.29zM1551.93 1700.41H1561.32V1705.1H1551.93zM833.66 1705.1H843.05V1709.79H833.66zM904.08 1705.1H913.46V1709.79H904.08zM1490.9 1705.1H1500.29V1709.79H1490.9zM1561.32 1705.1H1570.71V1709.79H1561.32zM824.27 1709.79H833.66V1714.49H824.27zM913.46 1709.79H922.85V1714.49H913.46zM1481.51 1709.79H1490.9V1714.49H1481.51zM1570.71 1709.79H1580.1V1714.49H1570.71zM819.57 1714.49H824.27V1719.18H819.57zM922.85 1714.49H927.55V1719.18H922.85zM1476.82 1714.49H1481.51V1719.18H1476.82zM1580.1 1714.49H1584.79V1719.18H1580.1zM814.88 1719.18H819.57V1723.88H814.88zM927.55 1719.18H932.24V1723.88H927.55zM1472.12 1719.18H1476.82V1723.88H1472.12zM1584.79 1719.18H1589.49V1723.88H1584.79zM805.49 1723.88H814.88V1728.57H805.49zM932.24 1723.88H941.63V1728.57H932.24zM1462.73 1723.88H1472.12V1728.57H1462.73zM1589.49 1723.88H1598.88V1728.57H1589.49zM800.79 1728.57H805.49V1733.27H800.79zM941.63 1728.57H946.33V1733.27H941.63zM1458.04 1728.57H1462.73V1733.27H1458.04zM1598.88 1728.57H1603.57V1733.27H1598.88zM796.1 1733.27H800.79V1737.96H796.1zM946.33 1733.27H951.02V1737.96H946.33zM1453.34 1733.27H1458.04V1737.96H1453.34zM1603.57 1733.27H1608.27V1737.96H1603.57zM791.4 1737.96H796.1V1742.66H791.4zM951.02 1737.96H955.72V1742.66H951.02zM1448.65 1737.96H1453.34V1742.66H1448.65zM1608.27 1737.96H1612.96V1742.66H1608.27zM786.71 1742.66H791.4V1747.35H786.71zM955.72 1742.66H960.41V1747.35H955.72zM1443.95 1742.66H1448.65V1747.35H1443.95zM1612.96 1742.66H1617.65V1747.35H1612.96zM782.02 1747.35H786.71V1752.05H782.02zM960.41 1747.35H965.11V1752.05H960.41zM1439.26 1747.35H1443.95V1752.05H1439.26zM1617.65 1747.35H1622.35V1752.05H1617.65zM777.32 1752.05H782.02V1756.74H777.32zM965.11 1752.05H969.8V1756.74H965.11zM1434.57 1752.05H1439.26V1756.74H1434.57zM1622.35 1752.05H1627.04V1756.74H1622.35zM772.63 1756.74H777.32V1761.44H772.63zM1429.87 1756.74H1434.57V1761.44H1429.87zM969.8 1756.74H974.49V1766.13H969.8zM1627.04 1756.74H1631.74V1766.13H1627.04zM767.93 1761.44H772.63V1770.82H767.93zM974.49 1766.13H979.19V1770.82H974.49zM1425.18 1761.44H1429.87V1770.82H1425.18zM1631.74 1766.13H1636.43V1770.82H1631.74zM763.24 1770.82H767.93V1775.52H763.24zM979.19 1770.82H983.88V1775.52H979.19zM1420.48 1770.82H1425.18V1775.52H1420.48zM1636.43 1770.82H1641.13V1775.52H1636.43zM758.54 1775.52H763.24V1780.21H758.54zM983.88 1775.52H988.58V1780.21H983.88zM1415.79 1775.52H1420.48V1780.21H1415.79zM1641.13 1775.52H1645.82V1780.21H1641.13zM753.85 1780.21H758.54V1784.91H753.85zM988.58 1780.21H993.27V1784.91H988.58zM1411.09 1780.21H1415.79V1784.91H1411.09zM1645.82 1780.21H1650.52V1784.91H1645.82zM749.15 1784.91H753.85V1789.6H749.15zM1406.4 1784.91H1411.09V1789.6H1406.4zM993.27 1784.91H997.97V1794.3H993.27zM1650.52 1784.91H1655.21V1794.3H1650.52zM744.46 1789.6H749.15V1798.99H744.46zM997.97 1794.3H1002.66V1798.99H997.97zM1401.7 1789.6H1406.4V1798.99H1401.7zM1655.21 1794.3H1659.91V1798.99H1655.21zM739.76 1798.99H744.46V1803.69H739.76zM1002.66 1798.99H1007.36V1803.69H1002.66zM1397.01 1798.99H1401.7V1803.69H1397.01zM1659.91 1798.99H1664.6V1803.69H1659.91zM735.07 1803.69H739.76V1808.38H735.07zM1007.36 1803.69H1012.05V1808.38H1007.36zM1392.31 1803.69H1397.01V1808.38H1392.31zM1664.6 1803.69H1669.3V1808.38H1664.6zM730.38 1808.38H735.07V1813.08H730.38zM1387.62 1808.38H1392.31V1813.08H1387.62zM1012.05 1808.38H1016.75V1817.77H1012.05zM1669.3 1808.38H1673.99V1817.77H1669.3zM725.68 1813.08H730.38V1822.47H725.68zM1016.75 1817.77H1021.44V1822.47H1016.75zM1382.92 1813.08H1387.62V1822.47H1382.92zM1673.99 1817.77H1678.68V1822.47H1673.99zM720.99 1822.47H725.68V1827.16H720.99zM1021.44 1822.47H1026.13V1827.16H1021.44zM1378.23 1822.47H1382.92V1827.16H1378.23zM1678.68 1822.47H1683.38V1827.16H1678.68zM716.29 1827.16H720.99V1831.85H716.29zM1373.54 1827.16H1378.23V1831.85H1373.54zM1026.13 1827.16H1030.83V1836.55H1026.13zM1683.38 1827.16H1688.07V1836.55H1683.38zM711.6 1831.85H716.29V1841.24H711.6zM1030.83 1836.55H1035.52V1841.24H1030.83zM1368.84 1831.85H1373.54V1841.24H1368.84zM1688.07 1836.55H1692.77V1841.24H1688.07zM378.28 1841.24H382.97V1845.94H378.28zM706.9 1841.24H711.6V1845.94H706.9zM1035.52 1841.24H1040.22V1845.94H1035.52zM1364.15 1841.24H1368.84V1845.94H1364.15zM1692.77 1841.24H1697.46V1845.94H1692.77zM702.21 1845.94H706.9V1850.63H702.21zM1359.45 1845.94H1364.15V1850.63H1359.45zM382.97 1845.94H387.67V1855.33H382.97zM1040.22 1845.94H1044.91V1855.33H1040.22zM1697.46 1845.94H1702.16V1855.33H1697.46zM387.67 1855.33H392.36V1860.02H387.67zM697.51 1850.63H702.21V1860.02H697.51zM1044.91 1855.33H1049.61V1860.02H1044.91zM1354.76 1850.63H1359.45V1860.02H1354.76zM1702.16 1855.33H1706.85V1860.02H1702.16zM692.82 1860.02H697.51V1864.72H692.82zM1350.06 1860.02H1354.76V1864.72H1350.06zM392.36 1860.02H397.06V1869.41H392.36zM1049.61 1860.02H1054.3V1869.41H1049.61zM1706.85 1860.02H1711.55V1869.41H1706.85zM397.06 1869.41H401.75V1874.11H397.06zM688.12 1864.72H692.82V1874.11H688.12zM1054.3 1869.41H1059V1874.11H1054.3zM1345.37 1864.72H1350.06V1874.11H1345.37zM1711.55 1869.41H1716.24V1874.11H1711.55zM401.75 1874.11H406.45V1878.8H401.75zM683.43 1874.11H688.12V1878.8H683.43zM1059 1874.11H1063.69V1878.8H1059zM1340.67 1874.11H1345.37V1878.8H1340.67zM1716.24 1874.11H1720.94V1878.8H1716.24zM406.45 1878.8H411.14V1883.49H406.45zM678.73 1878.8H683.43V1883.49H678.73zM1063.69 1878.8H1068.39V1883.49H1063.69zM1335.98 1878.8H1340.67V1883.49H1335.98zM1720.94 1878.8H1725.63V1883.49H1720.94zM852.43 2132.31H866.52V2137H852.43zM871.21 2132.31H875.91V2137H871.21zM880.6 2132.31H894.69V2137H880.6zM1509.68 2132.31H1523.76V2137H1509.68zM1528.46 2132.31H1533.15V2137H1528.46zM1537.85 2132.31H1551.93V2137H1537.85zM843.05 2137H852.43V2141.7H843.05zM894.69 2137H904.08V2141.7H894.69zM1500.29 2137H1509.68V2141.7H1500.29zM1551.93 2137H1561.32V2141.7H1551.93zM833.66 2141.7H843.05V2146.39H833.66zM904.08 2141.7H913.46V2146.39H904.08zM1490.9 2141.7H1500.29V2146.39H1490.9zM1561.32 2141.7H1570.71V2146.39H1561.32zM824.27 2146.39H833.66V2151.09H824.27zM913.46 2146.39H922.85V2151.09H913.46zM1481.51 2146.39H1490.9V2151.09H1481.51zM1570.71 2146.39H1580.1V2151.09H1570.71zM819.57 2151.09H824.27V2155.78H819.57zM922.85 2151.09H927.55V2155.78H922.85zM1476.82 2151.09H1481.51V2155.78H1476.82zM1580.1 2151.09H1584.79V2155.78H1580.1zM810.18 2155.78H819.57V2160.48H810.18zM927.55 2155.78H936.94V2160.48H927.55zM1467.43 2155.78H1476.82V2160.48H1467.43zM1584.79 2155.78H1594.18V2160.48H1584.79zM805.49 2160.48H810.18V2165.17H805.49zM936.94 2160.48H941.63V2165.17H936.94zM1462.73 2160.48H1467.43V2165.17H1462.73zM1594.18 2160.48H1598.88V2165.17H1594.18zM800.79 2165.17H805.49V2169.87H800.79zM941.63 2165.17H946.33V2169.87H941.63zM1458.04 2165.17H1462.73V2169.87H1458.04zM1598.88 2165.17H1603.57V2169.87H1598.88zM796.1 2169.87H800.79V2174.56H796.1zM946.33 2169.87H951.02V2174.56H946.33zM1453.34 2169.87H1458.04V2174.56H1453.34zM1603.57 2169.87H1608.27V2174.56H1603.57zM791.4 2174.56H796.1V2179.25H791.4zM951.02 2174.56H955.72V2179.25H951.02zM1448.65 2174.56H1453.34V2179.25H1448.65zM1608.27 2174.56H1612.96V2179.25H1608.27zM786.71 2179.25H791.4V2183.95H786.71zM955.72 2179.25H960.41V2183.95H955.72zM1443.95 2179.25H1448.65V2183.95H1443.95zM1612.96 2179.25H1617.65V2183.95H1612.96zM782.02 2183.95H786.71V2188.64H782.02zM960.41 2183.95H965.11V2188.64H960.41zM1439.26 2183.95H1443.95V2188.64H1439.26zM1617.65 2183.95H1622.35V2188.64H1617.65zM777.32 2188.64H782.02V2193.34H777.32zM965.11 2188.64H969.8V2193.34H965.11zM1434.57 2188.64H1439.26V2193.34H1434.57zM1622.35 2188.64H1627.04V2193.34H1622.35zM772.63 2193.34H777.32V2198.03H772.63zM969.8 2193.34H974.49V2198.03H969.8zM1429.87 2193.34H1434.57V2198.03H1429.87zM1627.04 2193.34H1631.74V2198.03H1627.04zM767.93 2198.03H772.63V2202.73H767.93zM974.49 2198.03H979.19V2202.73H974.49zM1425.18 2198.03H1429.87V2202.73H1425.18zM1631.74 2198.03H1636.43V2202.73H1631.74zM763.24 2202.73H767.93V2207.42H763.24zM979.19 2202.73H983.88V2207.42H979.19zM1420.48 2202.73H1425.18V2207.42H1420.48zM1636.43 2202.73H1641.13V2207.42H1636.43zM758.54 2207.42H763.24V2212.12H758.54zM1415.79 2207.42H1420.48V2212.12H1415.79zM983.88 2207.42H988.58V2216.81H983.88zM1641.13 2207.42H1645.82V2216.81H1641.13zM753.85 2212.12H758.54V2221.51H753.85zM988.58 2216.81H993.27V2221.51H988.58zM1411.09 2212.12H1415.79V2221.51H1411.09zM1645.82 2216.81H1650.52V2221.51H1645.82zM749.15 2221.51H753.85V2226.2H749.15zM993.27 2221.51H997.97V2226.2H993.27zM1406.4 2221.51H1411.09V2226.2H1406.4zM1650.52 2221.51H1655.21V2226.2H1650.52zM744.46 2226.2H749.15V2230.9H744.46zM997.97 2226.2H1002.66V2230.9H997.97zM1401.7 2226.2H1406.4V2230.9H1401.7zM1655.21 2226.2H1659.91V2230.9H1655.21zM739.76 2230.9H744.46V2235.59H739.76zM1397.01 2230.9H1401.7V2235.59H1397.01zM1002.66 2230.9H1007.36V2240.28H1002.66zM1659.91 2230.9H1664.6V2240.28H1659.91zM735.07 2235.59H739.76V2244.98H735.07zM1007.36 2240.28H1012.05V2244.98H1007.36zM1392.31 2235.59H1397.01V2244.98H1392.31zM1664.6 2240.28H1669.3V2244.98H1664.6zM730.38 2244.98H735.07V2249.67H730.38zM1012.05 2244.98H1016.75V2249.67H1012.05zM1387.62 2244.98H1392.31V2249.67H1387.62zM1669.3 2244.98H1673.99V2249.67H1669.3zM725.68 2249.67H730.38V2254.37H725.68zM1016.75 2249.67H1021.44V2254.37H1016.75zM1382.92 2249.67H1387.62V2254.37H1382.92zM1673.99 2249.67H1678.68V2254.37H1673.99zM720.99 2254.37H725.68V2259.06H720.99zM1378.23 2254.37H1382.92V2259.06H1378.23zM1021.44 2254.37H1026.13V2263.76H1021.44zM1678.68 2254.37H1683.38V2263.76H1678.68zM716.29 2259.06H720.99V2268.45H716.29zM1026.13 2263.76H1030.83V2268.45H1026.13zM1373.54 2259.06H1378.23V2268.45H1373.54zM1683.38 2263.76H1688.07V2268.45H1683.38zM711.6 2268.45H716.29V2273.15H711.6zM1030.83 2268.45H1035.52V2273.15H1030.83zM1368.84 2268.45H1373.54V2273.15H1368.84zM1688.07 2268.45H1692.77V2273.15H1688.07zM706.9 2273.15H711.6V2277.84H706.9zM1364.15 2273.15H1368.84V2277.84H1364.15zM378.28 2273.15H382.97V2282.54H378.28zM1035.52 2273.15H1040.22V2282.54H1035.52zM1692.77 2273.15H1697.46V2282.54H1692.77zM382.97 2282.54H387.67V2287.23H382.97zM702.21 2277.84H706.9V2287.23H702.21zM1040.22 2282.54H1044.91V2287.23H1040.22zM1359.45 2277.84H1364.15V2287.23H1359.45zM1697.46 2282.54H1702.16V2287.23H1697.46zM387.67 2287.23H392.36V2291.92H387.67zM697.51 2287.23H702.21V2291.92H697.51zM1044.91 2287.23H1049.61V2291.92H1044.91zM1354.76 2287.23H1359.45V2291.92H1354.76zM1702.16 2287.23H1706.85V2291.92H1702.16zM692.82 2291.92H697.51V2296.62H692.82zM1350.06 2291.92H1354.76V2296.62H1350.06zM392.36 2291.92H397.06V2301.31H392.36zM1049.61 2291.92H1054.3V2301.31H1049.61zM1706.85 2291.92H1711.55V2301.31H1706.85zM397.06 2301.31H401.75V2306.01H397.06zM688.12 2296.62H692.82V2306.01H688.12zM1054.3 2301.31H1059V2306.01H1054.3zM1345.37 2296.62H1350.06V2306.01H1345.37zM1711.55 2301.31H1716.24V2306.01H1711.55zM401.75 2306.01H406.45V2310.7H401.75zM683.43 2306.01H688.12V2310.7H683.43zM1059 2306.01H1063.69V2310.7H1059zM1340.67 2306.01H1345.37V2310.7H1340.67zM1716.24 2306.01H1720.94V2310.7H1716.24zM678.73 2310.7H683.43V2315.4H678.73zM1335.98 2310.7H1340.67V2315.4H1335.98zM406.45 2310.7H411.14V2320.09H406.45zM1063.69 2310.7H1068.39V2320.09H1063.69zM1720.94 2310.7H1725.63V2320.09H1720.94zM411.14 2320.09H415.84V2324.79H411.14zM674.04 2315.4H678.73V2324.79H674.04zM1068.39 2320.09H1073.08V2324.79H1068.39zM1331.28 2315.4H1335.98V2324.79H1331.28zM1725.63 2320.09H1730.32V2324.79H1725.63zM669.35 2324.79H674.04V2329.48H669.35zM1326.59 2324.79H1331.28V2329.48H1326.59zM415.84 2324.79H420.53V2334.18H415.84zM1073.08 2324.79H1077.78V2334.18H1073.08zM1730.32 2324.79H1735.02V2334.18H1730.32zM420.53 2334.18H425.23V2338.87H420.53zM664.65 2329.48H669.35V2338.87H664.65zM1077.78 2334.18H1082.47V2338.87H1077.78zM1321.89 2329.48H1326.59V2338.87H1321.89zM1735.02 2334.18H1739.71V2338.87H1735.02zM425.23 2338.87H429.92V2343.57H425.23zM659.96 2338.87H664.65V2343.57H659.96zM1082.47 2338.87H1087.16V2343.57H1082.47zM1317.2 2338.87H1321.89V2343.57H1317.2zM1739.71 2338.87H1744.41V2343.57H1739.71zM655.26 2343.57H659.96V2348.26H655.26zM1312.51 2343.57H1317.2V2348.26H1312.51zM1969.75 2343.57H1974.44V2348.26H1969.75zM429.92 2343.57H434.62V2352.95H429.92zM1087.16 2343.57H1091.86V2352.95H1087.16zM1744.41 2343.57H1749.1V2352.95H1744.41zM434.62 2352.95H439.31V2357.65H434.62zM650.57 2348.26H655.26V2357.65H650.57zM1091.86 2352.95H1096.55V2357.65H1091.86zM1307.81 2348.26H1312.51V2357.65H1307.81zM1749.1 2352.95H1753.8V2357.65H1749.1zM1965.05 2348.26H1969.75V2357.65H1965.05zM439.31 2357.65H444V2362.34H439.31zM645.87 2357.65H650.57V2362.34H645.87zM1096.55 2357.65H1101.25V2362.34H1096.55zM1303.12 2357.65H1307.81V2362.34H1303.12zM1753.8 2357.65H1758.49V2362.34H1753.8zM1960.36 2357.65H1965.05V2362.34H1960.36zM641.18 2362.34H645.87V2367.04H641.18zM1298.42 2362.34H1303.12V2367.04H1298.42zM1955.67 2362.34H1960.36V2367.04H1955.67zM444 2362.34H448.7V2371.73H444zM1101.25 2362.34H1105.94V2371.73H1101.25zM1758.49 2362.34H1763.19V2371.73H1758.49zM448.7 2371.73H453.39V2376.43H448.7zM636.48 2367.04H641.18V2376.43H636.48zM1105.94 2371.73H1110.64V2376.43H1105.94zM1293.73 2367.04H1298.42V2376.43H1293.73zM1763.19 2371.73H1767.88V2376.43H1763.19zM1950.97 2367.04H1955.67V2376.43H1950.97zM453.39 2376.43H458.09V2381.12H453.39zM631.79 2376.43H636.48V2381.12H631.79zM1110.64 2376.43H1115.33V2381.12H1110.64zM1289.03 2376.43H1293.73V2381.12H1289.03zM1767.88 2376.43H1772.58V2381.12H1767.88zM1946.28 2376.43H1950.97V2381.12H1946.28zM627.09 2381.12H631.79V2385.82H627.09zM1284.34 2381.12H1289.03V2385.82H1284.34zM1941.58 2381.12H1946.28V2385.82H1941.58zM458.09 2381.12H462.78V2390.51H458.09zM1115.33 2381.12H1120.03V2390.51H1115.33zM1772.58 2381.12H1777.27V2390.51H1772.58zM462.78 2390.51H467.48V2395.21H462.78zM622.4 2385.82H627.09V2395.21H622.4zM1120.03 2390.51H1124.72V2395.21H1120.03zM1279.64 2385.82H1284.34V2395.21H1279.64zM1777.27 2390.51H1781.97V2395.21H1777.27zM1936.89 2385.82H1941.58V2395.21H1936.89zM467.48 2395.21H472.17V2399.9H467.48zM617.7 2395.21H622.4V2399.9H617.7zM1124.72 2395.21H1129.42V2399.9H1124.72zM1274.95 2395.21H1279.64V2399.9H1274.95zM1781.97 2395.21H1786.66V2399.9H1781.97zM1932.19 2395.21H1936.89V2399.9H1932.19zM613.01 2399.9H617.7V2404.6H613.01zM1270.25 2399.9H1274.95V2404.6H1270.25zM1927.5 2399.9H1932.19V2404.6H1927.5zM472.17 2399.9H476.87V2409.29H472.17zM1129.42 2399.9H1134.11V2409.29H1129.42zM1786.66 2399.9H1791.35V2409.29H1786.66zM476.87 2409.29H481.56V2413.98H476.87zM608.32 2404.6H613.01V2413.98H608.32zM1134.11 2409.29H1138.81V2413.98H1134.11zM1265.56 2404.6H1270.25V2413.98H1265.56zM1791.35 2409.29H1796.05V2413.98H1791.35zM1922.8 2404.6H1927.5V2413.98H1922.8zM481.56 2413.98H486.26V2418.68H481.56zM603.62 2413.98H608.32V2418.68H603.62zM1138.81 2413.98H1143.5V2418.68H1138.81zM1260.86 2413.98H1265.56V2418.68H1260.86zM1796.05 2413.98H1800.74V2418.68H1796.05zM1918.11 2413.98H1922.8V2418.68H1918.11zM486.26 2418.68H490.95V2423.37H486.26zM598.93 2418.68H603.62V2423.37H598.93zM1143.5 2418.68H1148.19V2423.37H1143.5zM1256.17 2418.68H1260.86V2423.37H1256.17zM1800.74 2418.68H1805.44V2423.37H1800.74zM1913.41 2418.68H1918.11V2423.37H1913.41zM490.95 2423.37H495.64V2428.07H490.95zM594.23 2423.37H598.93V2428.07H594.23zM1148.19 2423.37H1152.89V2428.07H1148.19zM1251.48 2423.37H1256.17V2428.07H1251.48zM1805.44 2423.37H1810.13V2428.07H1805.44zM1908.72 2423.37H1913.41V2428.07H1908.72zM495.64 2428.07H500.34V2432.76H495.64zM589.54 2428.07H594.23V2432.76H589.54zM1152.89 2428.07H1157.58V2432.76H1152.89zM1246.78 2428.07H1251.48V2432.76H1246.78zM1810.13 2428.07H1814.83V2432.76H1810.13zM1904.03 2428.07H1908.72V2432.76H1904.03zM500.34 2432.76H505.03V2437.46H500.34zM584.84 2432.76H589.54V2437.46H584.84zM1157.58 2432.76H1162.28V2437.46H1157.58zM1242.09 2432.76H1246.78V2437.46H1242.09zM1814.83 2432.76H1819.52V2437.46H1814.83zM1899.33 2432.76H1904.03V2437.46H1899.33zM505.03 2437.46H509.73V2442.15H505.03zM580.15 2437.46H584.84V2442.15H580.15zM1162.28 2437.46H1166.97V2442.15H1162.28zM1237.39 2437.46H1242.09V2442.15H1237.39zM1819.52 2437.46H1824.22V2442.15H1819.52zM1894.64 2437.46H1899.33V2442.15H1894.64zM509.73 2442.15H514.42V2446.85H509.73zM575.45 2442.15H580.15V2446.85H575.45zM1166.97 2442.15H1171.67V2446.85H1166.97zM1232.7 2442.15H1237.39V2446.85H1232.7zM1824.22 2442.15H1828.91V2446.85H1824.22zM1889.94 2442.15H1894.64V2446.85H1889.94zM514.42 2446.85H519.12V2451.54H514.42zM570.76 2446.85H575.45V2451.54H570.76zM1171.67 2446.85H1176.36V2451.54H1171.67zM1228 2446.85H1232.7V2451.54H1228zM1828.91 2446.85H1833.61V2451.54H1828.91zM1885.25 2446.85H1889.94V2451.54H1885.25zM519.12 2451.54H528.51V2456.24H519.12zM561.37 2451.54H570.76V2456.24H561.37zM1176.36 2451.54H1185.75V2456.24H1176.36zM1218.61 2451.54H1228V2456.24H1218.61zM1833.61 2451.54H1843V2456.24H1833.61zM1875.86 2451.54H1885.25V2456.24H1875.86zM528.51 2456.24H561.37V2460.93H528.51zM1185.75 2456.24H1218.61V2460.93H1185.75zM1843 2456.24H1875.86V2460.93H1843z"/>
<path fill="#00f" d="M871.21 94.85H875.91V202.83H871.21zM1528.46 94.85H1533.15V216.91H1528.46zM866.52 202.83H875.91V263.86H866.52zM1523.76 216.91H1533.15V292.03H1523.76zM866.52 263.86H871.21V667.59H866.52zM875.91 263.86H880.6V667.59H875.91zM1523.76 292.03H1528.46V667.59H1523.76zM1533.15 292.03H1537.85V667.59H1533.15zM387.67 709.84H702.21V714.54H387.67zM1044.91 709.84H1354.76V714.54H1044.91zM1702.16 709.84H1974.44V714.54H1702.16zM378.28 714.54H392.36V719.23H378.28zM697.51 714.54H767.93V719.23H697.51zM979.19 714.54H1049.61V719.23H979.19zM1354.76 714.54H1425.18V719.23H1354.76zM1636.43 714.54H1702.16V719.23H1636.43zM767.93 719.23H800.79V723.93H767.93zM946.33 719.23H979.19V723.93H946.33zM1425.18 719.23H1458.04V723.93H1425.18zM1603.57 719.23H1636.43V723.93H1603.57zM800.79 723.93H819.57V728.62H800.79zM927.55 723.93H946.33V728.62H927.55zM1458.04 723.93H1472.12V728.62H1458.04zM1584.79 723.93H1603.57V728.62H1584.79zM814.88 728.62H828.96V733.32H814.88zM918.16 728.62H927.55V733.32H918.16zM1472.12 728.62H1486.21V733.32H1472.12zM1575.4 728.62H1589.49V733.32H1575.4zM828.96 733.32H833.66V738.01H828.96zM913.46 733.32H918.16V738.01H913.46zM1486.21 733.32H1490.9V738.01H1486.21zM1570.71 733.32H1575.4V738.01H1570.71zM833.66 738.01H838.35V742.71H833.66zM904.08 738.01H913.46V742.71H904.08zM1490.9 738.01H1495.59V742.71H1490.9zM1561.32 738.01H1570.71V742.71H1561.32zM838.35 742.71H843.05V747.4H838.35zM904.08 742.71H908.77V747.4H904.08zM1495.59 742.71H1500.29V747.4H1495.59zM1561.32 742.71H1566.01V747.4H1561.32zM843.05 747.4H847.74V752.1H843.05zM899.38 747.4H904.08V752.1H899.38zM1500.29 747.4H1504.98V752.1H1500.29zM1556.62 747.4H1561.32V752.1H1556.62zM847.74 752.1H852.43V761.49H847.74zM894.69 752.1H899.38V761.49H894.69zM1504.98 752.1H1509.68V761.49H1504.98zM1551.93 752.1H1556.62V761.49H1551.93zM889.99 761.49H894.69V775.57H889.99zM1547.24 761.49H1551.93V775.57H1547.24zM852.43 761.49H857.13V780.26H852.43zM1509.68 761.49H1514.37V780.26H1509.68zM1542.54 775.57H1547.24V799.04H1542.54zM857.13 780.26H861.82V803.74H857.13zM885.3 775.57H889.99V803.74H885.3zM1514.37 780.26H1519.07V808.43H1514.37zM880.6 803.74H885.3V855.38H880.6zM1537.85 799.04H1542.54V860.07H1537.85zM861.82 803.74H866.52V869.46H861.82zM1519.07 808.43H1523.76V869.46H1519.07zM1523.76 869.46H1528.46V1033.77H1523.76zM1533.15 860.07H1537.85V1033.77H1533.15zM866.52 869.46H871.21V1052.55H866.52zM875.91 855.38H880.6V1052.55H875.91zM1523.76 1033.77H1533.15V1090.11H1523.76zM866.52 1052.55H875.91V1104.19H866.52zM871.21 1104.19H875.91V1212.17H871.21zM1528.46 1090.11H1533.15V1212.17H1528.46zM871.21 1296.67H875.91V1395.26H871.21zM1528.46 1301.36H1533.15V1409.34H1528.46zM866.52 1395.26H875.91V1451.59H866.52zM1523.76 1409.34H1533.15V1479.76H1523.76zM866.52 1451.59H871.21V1878.8H866.52zM861.82 1878.8H866.52V1883.49H861.82zM875.91 1451.59H880.6V1883.49H875.91zM1523.76 1479.76H1528.46V1883.49H1523.76zM1533.15 1479.76H1537.85V1883.49H1533.15zM871.21 1949.22H875.91V2029.03H871.21zM1528.46 1949.22H1533.15V2043.11H1528.46zM866.52 2029.03H875.91V2085.36H866.52zM1523.76 2043.11H1533.15V2108.84H1523.76zM866.52 2085.36H871.21V2489.1H866.52zM875.91 2085.36H880.6V2489.1H875.91zM1523.76 2108.84H1528.46V2489.1H1523.76zM1533.15 2108.84H1537.85V2489.1H1533.15z"/>
</g>
<g>
<text transform="matrix(1.0676 0 0 0.9736 262.23 206.53)" font-family='"Liberation Serif", serif' font-size="78" fill="#000">10</text>
<text transform="matrix(0.8963 0 0 0.9923 306.43 361.41)" font-family='"Liberation Serif", serif' font-size="78" fill="#000">1</text>
<text transform="matrix(1.0156 0 0 0.9736 242.45 521.13)" font-family='"Liberation Serif", serif' font-size="78" fill="#000">0.1</text>
<text transform="matrix(1.0543 0 0 0.9736 197.84 676.03)" font-family='"Liberation Serif", serif' font-size="78" fill="#000">0.01</text>
<text transform="matrix(1.1264 0 0 0.9736 259.12 807.43)" font-family='"Liberation Serif", serif' font-size="78" fill="#000">80</text>
<text transform="matrix(1.1264 0 0 0.9736 259.12 957.73)" font-family='"Liberation Serif", serif' font-size="78" fill="#000">60</text>
<text transform="matrix(1.0959 0 0 0.9736 261.40 1107.93)" font-family='"Liberation Serif", serif' font-size="78" fill="#000">40</text>
<text transform="matrix(1.1264 0 0 0.9736 259.12 1262.83)" font-family='"Liberation Serif", serif' font-size="78" fill="#000">20</text>
<text transform="matrix(1.0676 0 0 0.9736 262.23 1389.63)" font-family='"Liberation Serif", serif' font-size="78" fill="#000">10</text>
<text transform="matrix(0.8963 0 0 0.9923 306.43 1521.01)" font-family='"Liberation Serif", serif' font-size="78" fill="#000">1</text>
<text transform="matrix(1.0156 0 0 0.9736 242.45 1647.83)" font-family='"Liberation Serif", serif' font-size="78" fill="#000">0.1</text>
<text transform="matrix(1.0543 0 0 0.9736 197.84 1779.23)" font-family='"Liberation Serif", serif' font-size="78" fill="#000">0.01</text>
<text transform="matrix(1.0327 0 0 0.9736 160.40 1906.03)" font-family='"Liberation Serif", serif' font-size="78" fill="#000">0.001</text>
<text transform="matrix(1.0676 0 0 0.9736 262.23 1985.83)" font-family='"Liberation Serif", serif' font-size="78" fill="#000">10</text>
<text transform="matrix(0.8963 0 0 0.9923 306.43 2145.41)" font-family='"Liberation Serif", serif' font-size="78" fill="#000">1</text>
<text transform="matrix(1.0156 0 0 0.9736 242.45 2305.03)" font-family='"Liberation Serif", serif' font-size="78" fill="#000">0.1</text>
<text transform="matrix(1.0543 0 0 0.9736 197.84 2464.63)" font-family='"Liberation Serif", serif' font-size="78" fill="#000">0.01</text>
<text transform="matrix(1.0538 0 0 0.9736 601.44 2586.43)" font-family='"Liberation Serif", serif' font-size="78" fill="#000">0.05</text>
<text transform="matrix(1.1000 0 0 0.9736 1188.00 2586.43)" font-family='"Liberation Serif", serif' font-size="78" fill="#000">0.10</text>
<text transform="matrix(1.0746 0 0 0.9736 1779.48 2586.43)" font-family='"Liberation Serif", serif' font-size="78" fill="#000">0.15</text>
<text transform="matrix(1.0537 0 0 0.9604 1058.25 2720.88)" font-family='"Liberation Serif", serif' font-size="78" fill="#000">V</text>
<text transform="matrix(1.2625 0 0 1.0600 1118.47 2743.98)" font-family='"Liberation Serif", serif' font-size="55" fill="#000">g</text>
<text transform="matrix(1.1373 0 0 1.0214 1168.59 2722.16)" font-family='"Liberation Serif", serif' font-size="78" fill="#000">(V)</text>
<text transform="matrix(0 -1.0396 1.0962 0 163.90 513.64)" font-family='"Liberation Serif", serif' font-size="78" fill="#000">Y</text>
<text transform="matrix(0 -1.0404 1.1270 0 184.87 460.16)" font-family='"Liberation Serif", serif' font-size="55" fill="#000">SEB</text>
<text transform="matrix(0 -1.0281 0.9929 0 160.21 351.68)" font-family='"Liberation Serif", serif' font-size="78" fill="#000">(nS)</text>
<text transform="matrix(0 -1.1151 1.1154 0 171.38 1143.83)" font-family='"Liberation Serif", serif' font-size="78" fill="#000">Φ</text>
<text transform="matrix(0 -1.0574 1.1622 0 191.84 1081.23)" font-family='"Liberation Serif", serif' font-size="55" fill="#000">SEB</text>
<text transform="matrix(0 -1.0462 1.0306 0 170.48 976.74)" font-family='"Liberation Serif", serif' font-size="78" fill="#000">(deg)</text>
<text transform="matrix(0 -0.9529 0.9660 0 170.53 1656.96)" font-family='"Liberation Serif", serif' font-size="78" fill="#000">G</text>
<text transform="matrix(0 -1.0281 0.9986 0 169.52 1576.78)" font-family='"Liberation Serif", serif' font-size="78" fill="#000">(nS)</text>
<text transform="matrix(0 -0.9556 1.0132 0 166.49 2347.17)" font-family='"Liberation Serif", serif' font-size="78" fill="#000">C</text>
<text transform="matrix(0 -1.0588 1.1039 0 191.75 2299.42)" font-family='"Liberation Serif", serif' font-size="55" fill="#000">dyn</text>
<text transform="matrix(0 -1.0081 1.0000 0 165.00 2186.02)" font-family='"Liberation Serif", serif' font-size="78" fill="#000">(aF)</text>
<text transform="matrix(0.7371 0 0 1.0098 1754.10 230.64)" font-family='"Liberation Sans", sans-serif' font-size="132" fill="#000">(</text><text transform="matrix(0.7970 0 0 0.8792 1797.02 228.82)" font-family='"Liberation Sans", sans-serif' font-size="132" fill="#000">a</text><text transform="matrix(0.7314 0 0 1.0098 1871.47 230.64)" font-family='"Liberation Sans", sans-serif' font-size="132" fill="#000">)</text>
<text transform="matrix(0.7343 0 0 1.0106 1758.73 859.71)" font-family='"Liberation Sans", sans-serif' font-size="132" fill="#000">(</text><text transform="matrix(1.0316 0 0 1.0116 1800.58 858.80)" font-family='"Liberation Sans", sans-serif' font-size="132" fill="#000" stroke="#fefefe" stroke-width="2.4">b</text><text transform="matrix(0.7314 0 0 1.0106 1885.47 859.71)" font-family='"Liberation Sans", sans-serif' font-size="132" fill="#000">)</text>
<text transform="matrix(0.7486 0 0 1.0130 1767.61 1427.85)" font-family='"Liberation Sans", sans-serif' font-size="132" fill="#000">(</text><text transform="matrix(0.9889 0 0 0.9057 1804.88 1427.00)" font-family='"Liberation Sans", sans-serif' font-size="132" fill="#000" stroke="#fefefe" stroke-width="2.4">c</text><text transform="matrix(0.7400 0 0 1.0130 1876.06 1427.85)" font-family='"Liberation Sans", sans-serif' font-size="132" fill="#000">)</text>
<text transform="matrix(0.7457 0 0 1.0122 1772.23 2056.87)" font-family='"Liberation Sans", sans-serif' font-size="132" fill="#000">(</text><text transform="matrix(1.0351 0 0 1.0147 1813.05 2056.10)" font-family='"Liberation Sans", sans-serif' font-size="132" fill="#000" stroke="#fefefe" stroke-width="2.4">d</text><text transform="matrix(0.7486 0 0 1.0122 1895.05 2056.87)" font-family='"Liberation Sans", sans-serif' font-size="132" fill="#000">)</text>
</g>
</svg>
</body></html>
